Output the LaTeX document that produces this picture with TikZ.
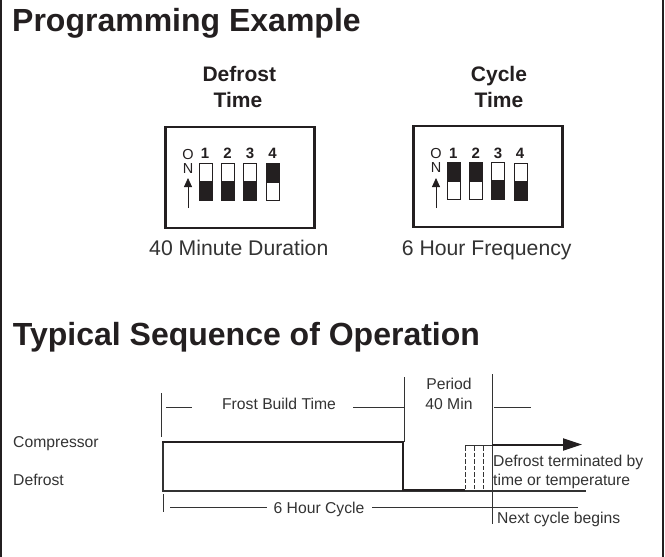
\documentclass[tikz,border=0pt]{standalone}
\usepackage{fontspec}
\setmainfont{Liberation Sans}
\usetikzlibrary{arrows.meta}
\definecolor{ink}{HTML}{231F20}
\definecolor{txt}{HTML}{333333}
\tikzset{
  x=1pt,y=-1pt,
  head/.style={anchor=base west,inner sep=0,font=\fontsize{32}{32}\selectfont\bfseries,text=ink},
  sub/.style={anchor=base,inner sep=0,font=\fontsize{21}{24}\selectfont\bfseries,text=ink},
  capt/.style={anchor=base,inner sep=0,font=\fontsize{21.2}{22}\selectfont,text=txt},
  lab/.style={anchor=base,inner sep=0,font=\fontsize{15.7}{20}\selectfont,text=txt,align=center},
  labl/.style={anchor=base west,inner sep=0,font=\fontsize{15.7}{19}\selectfont,text=txt},
  num/.style={anchor=base,inner sep=0,font=\fontsize{15}{15}\selectfont\bfseries,text=ink},
  ltr/.style={anchor=base,inner sep=0,font=\fontsize{14.5}{14.5}\selectfont,text=ink},
  box/.style={draw=ink,line width=2.4pt,fill=white},
  thin line/.style={draw=txt,line width=0.9pt},
  heavy/.style={draw=ink,line width=2pt},
  on arrow/.style={draw=ink,line width=0.8pt,-{Triangle[length=9pt,width=8pt]}},
}
\newcommand{\dipup}[2]{\draw[ink,line width=1pt] (#1+0.5,#2+0.5) rectangle ++(13,37);\fill[ink] (#1,#2) rectangle ++(14,20);}
\newcommand{\dipdown}[2]{\draw[ink,line width=1pt] (#1+0.5,#2+0.5) rectangle ++(13,37);\fill[ink] (#1,#2+18) rectangle ++(14,20);}
\begin{document}
\begin{tikzpicture}
\useasboundingbox (0,0) rectangle (665,557);
\fill[white] (0,0) rectangle (665,557);
\draw[ink,line width=2pt] (1,0) -- (1,557);
\draw[ink,line width=2pt] (663,0) -- (663,557);
\node[head] (h1) at (12,31) {Programming Example};
\node[head] (h2) at (12.7,345) {Typical Sequence of Operation};
\node[sub] (d1) at (239.3,81.5) {Defrost};
\node[sub] (d2) at (238,107) {Time};
\node[sub] (c1h) at (499,81.5) {Cycle};
\node[sub] (c2h) at (499,107) {Time};
% box 1
\draw[box] (165.5,127.2) rectangle (314.5,227.8);
\node[ltr] (o1) at (188,159) {O};
\node[ltr] (n1) at (188,173) {N};
\coordinate (a1) at (188,208);
\coordinate (b1) at (188,178);
\draw[on arrow] (a1) -- (b1);
\node[num] at (205,158.5) {1};
\node[num] at (227.5,158.5) {2};
\node[num] at (250,158.5) {3};
\node[num] at (272.5,158.5) {4};
\dipdown{199}{162.7}\dipdown{221}{162.7}\dipdown{243}{162.7}\dipup{266}{162.7}
% box 2
\draw[box] (413.5,126.2) rectangle (562.5,226.8);
\node[ltr] (o2) at (436,158.5) {O};
\node[ltr] (n2) at (436,172.5) {N};
\coordinate (a2) at (436,208);
\coordinate (b2) at (436,178);
\draw[on arrow] (a2) -- (b2);
\node[num] at (453.3,158.5) {1};
\node[num] at (475.7,158.5) {2};
\node[num] at (498,158.5) {3};
\node[num] at (520,158.5) {4};
\dipup{447}{161.5}\dipup{469}{161.5}\dipdown{491}{162.3}\dipdown{514}{162.5}
\node[capt] (c1) at (238.8,255) {40 Minute Duration};
\node[capt] (c2) at (486.7,255) {6 Hour Frequency};
% timing
\node[labl] (comp) at (13,447) {Compressor};
\node[labl] (def) at (13,485) {Defrost};
\node[lab] (fb) at (279,409) {Frost Build Time};
\node[lab] (per1) at (449,389) {Period};
\node[lab] (per2) at (449,409) {40 Min};
\node[lab] (six) at (319,513) {6 Hour Cycle};
\node[labl] (dt1) at (493,466) {Defrost terminated by};
\node[labl] (dt2) at (493,485) {time or temperature};
\node[labl] (nc) at (497,523) {Next cycle begins};
% ticks and rules
\draw[thin line] (161.7,393) -- (161.7,437);
\draw[thin line] (163,494) -- (163,512);
\draw[thin line] (166,407.5) -- (192,407.5);
\draw[thin line] (353,407.5) -- (404,407.5);
\draw[thin line] (494.3,407) -- (531,407);
\draw[thin line] (170,507.7) -- (267,507.7);
\draw[thin line] (372,507.7) -- (578,507.7);
\draw[thin line] (404,377) -- (404,442);
\draw[thin line] (492,374) -- (492,523.5);
\draw[thin line,line width=1.1pt] (163,442) -- (163,491) -- (586,491);
\draw[thin line,line width=0.8pt,dash pattern=on 4.5pt off 2pt] (465.3,446) -- (465.3,489);
\draw[thin line,line width=0.8pt,dash pattern=on 4.5pt off 2pt] (474,446) -- (474,489);
\draw[thin line,line width=0.8pt,dash pattern=on 4.5pt off 2pt] (483,446) -- (483,489);
\draw[thin line,line width=0.8pt] (465.3,445.7) -- (492,445.7);
\draw[heavy] (162,442) -- (403,442) -- (403,490) -- (465,490);
\coordinate (as) at (492,444.5);
\coordinate (ae) at (582,444.5);
\draw[heavy,-{Triangle[length=19pt,width=12pt]}] (as) -- (ae);
\end{tikzpicture}
\end{document}
